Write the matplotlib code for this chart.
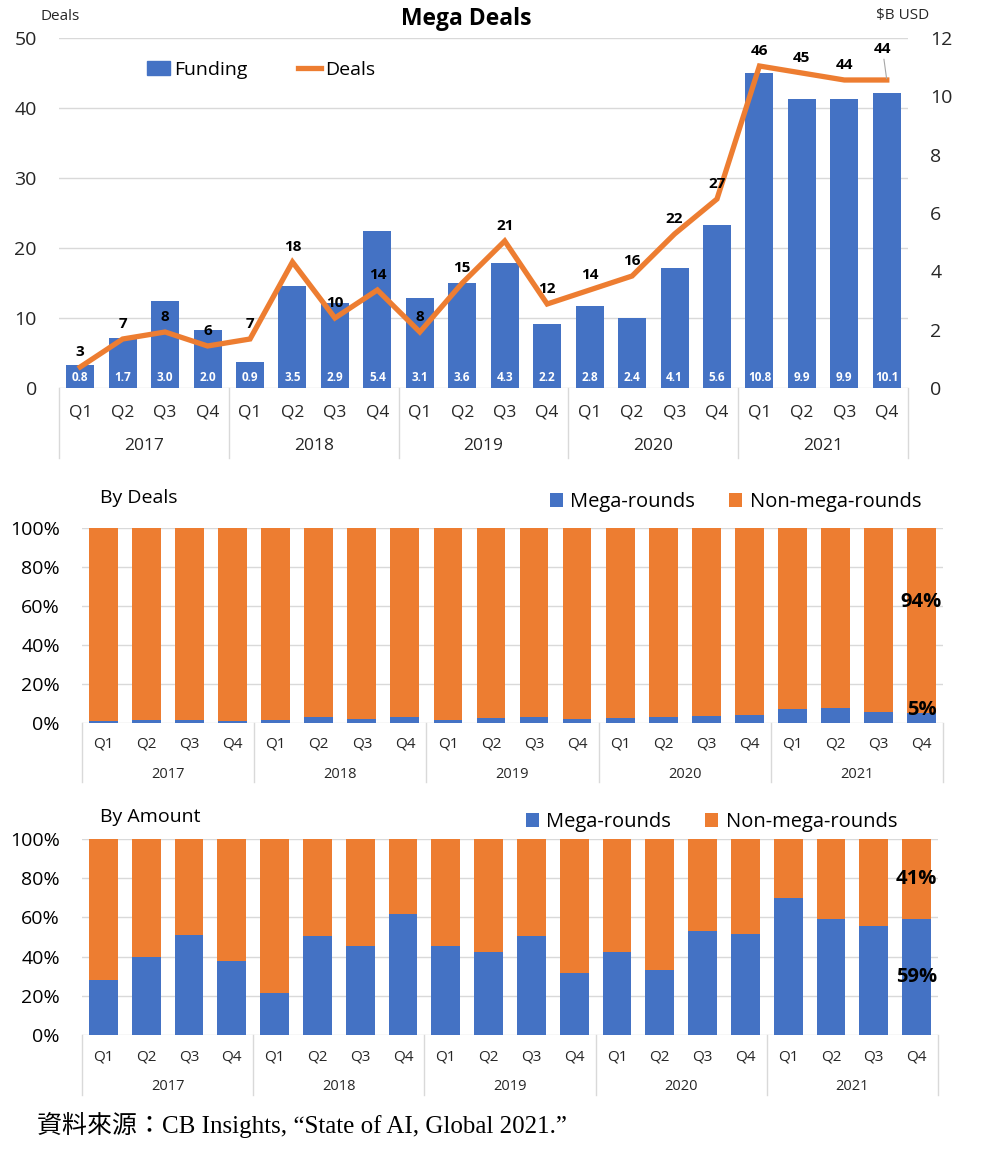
import numpy as np
import matplotlib.pyplot as plt
from matplotlib.patches import Patch
from matplotlib.lines import Line2D

# data
years = ["2017", "2018", "2019", "2020", "2021"]
quarters = ["Q1", "Q2", "Q3", "Q4"]

funding = [0.8, 1.7, 3.0, 2.0, 0.9, 3.5, 2.9, 5.4, 3.1, 3.6,
           4.3, 2.2, 2.8, 2.4, 4.1, 5.6, 10.8, 9.9, 9.9, 10.1]
deals = [3, 7, 8, 6, 7, 18, 10, 14, 8, 15,
         21, 12, 14, 16, 22, 27, 46, 45, 44, 44]

mega_deals = [0.7, 1.5, 1.5, 1.0, 1.5, 2.7, 1.9, 2.7, 1.5, 2.2,
              2.7, 1.9, 2.2, 2.7, 3.6, 4.1, 7.2, 7.7, 5.5, 5.0]
non_mega_deals = [99.3, 98.5, 98.5, 99.0, 98.5, 97.3, 98.1, 97.3, 98.5, 97.8,
                  97.3, 98.1, 97.8, 97.3, 96.4, 95.9, 92.8, 92.3, 94.5, 94.0]

mega_amount = [28.2, 39.6, 51.2, 37.8, 21.3, 50.3, 45.6, 61.7, 45.6, 42.5,
               50.3, 31.6, 42.5, 33.3, 52.9, 51.7, 69.9, 59.4, 55.4, 59.0]
non_mega_amount = [71.8, 60.4, 48.8, 62.2, 78.7, 49.7, 54.4, 38.3, 54.4, 57.5,
                   49.7, 68.4, 57.5, 66.7, 47.1, 48.3, 30.1, 40.6, 44.6, 41.0]

BLUE = "#4472C4"
ORANGE = "#ED7D31"
GRID = "#D9D9D9"
TXT = "#262626"

plt.rcParams["font.family"] = ["Open Sans", "DejaVu Sans"]

W, H = 1001, 1156
fig = plt.figure(figsize=(W / 100, H / 100), dpi=100)

n = len(years) * len(quarters)
x = np.arange(n)


def fig_rect(x0, y0, x1, y1):
    return [x0 / W, 1 - y1 / H, (x1 - x0) / W, (y1 - y0) / H]


def draw_categories(ax, q_y, yr_y, line_y, q_size, yr_size):
    trans = ax.get_xaxis_transform()
    for i in range(n):
        ax.text(i, q_y, quarters[i % 4], transform=trans, ha="center",
                va="center", fontsize=q_size, color=TXT)
    for k, yr in enumerate(years):
        ax.text(4 * k + 1.5, yr_y, yr, transform=trans, ha="center",
                va="center", fontsize=yr_size, color=TXT)
    for k in range(len(years) + 1):
        ax.plot([4 * k - 0.5] * 2, [0, line_y], transform=trans,
                color=GRID, lw=1, clip_on=False)
    ax.set_xticks([])
    ax.set_xlim(-0.5, n - 0.5)


def clean(ax):
    for s in ax.spines.values():
        s.set_visible(False)


# ---- top: mega deals ----
ax = fig.add_axes(fig_rect(59, 38, 908, 388))
ax.set_ylim(0, 50)
ax.set_yticks(range(0, 51, 10))
ax.grid(axis="y", color=GRID, lw=1)
ax.tick_params(axis="y", length=0, pad=16, labelsize=14, labelcolor=TXT)
clean(ax)
draw_categories(ax, -0.069, -0.166, -0.2, 12.5, 12.5)

ax2 = ax.twinx()
ax2.bar(x, funding, width=0.66, color=BLUE, zorder=2)
ax2.set_ylim(0, 12)
ax2.set_yticks(range(0, 13, 2))
ax2.tick_params(axis="y", length=0, pad=16, labelsize=14, labelcolor=TXT)
clean(ax2)
for i, v in enumerate(funding):
    ax2.annotate(f"{v:.1f}", (i, 0), xytext=(0, 3), textcoords="offset points",
                 ha="center", va="bottom", color="white", fontsize=8.5,
                 fontweight="bold")

ax3 = ax.twinx()
ax3.set_ylim(0, 50)
ax3.plot(x, deals, color=ORANGE, lw=3.8, solid_joinstyle="miter", zorder=3)
ax3.set_yticks([])
clean(ax3)
for i, v in enumerate(deals):
    if i == n - 1:
        ax3.annotate(str(v), (i, v), xytext=(-3, 17), textcoords="offset points",
                     ha="center", va="bottom", fontsize=11, fontweight="bold",
                     arrowprops=dict(arrowstyle="-", color="#A6A6A6", lw=0.8,
                                     shrinkA=0, shrinkB=1))
    else:
        ax3.annotate(str(v), (i, v), xytext=(0, 6), textcoords="offset points",
                     ha="center", va="bottom", fontsize=11, fontweight="bold")

handles = [Patch(color=BLUE), Line2D([], [], color=ORANGE, lw=3.8)]
ax3.legend(handles, ["Funding", "Deals"], ncol=2, frameon=False,
           loc="center left", bbox_to_anchor=(147 / W, 1 - 70 / H),
           bbox_transform=fig.transFigure, borderpad=0, borderaxespad=0,
           handlelength=1.2, handleheight=0.7, handletextpad=0.2,
           columnspacing=2.6, fontsize=14)

fig.text(466 / W, 1 - 19 / H, "Mega Deals", ha="center", va="center",
         fontsize=16.5, fontweight="bold", color="black")
fig.text(40 / W, 1 - 17 / H, "Deals", ha="left", va="center", fontsize=11,
         color=TXT)
fig.text(929 / W, 1 - 15 / H, "$B USD", ha="right", va="center", fontsize=11,
         color=TXT)


# ---- stacked percent panels ----
def pct_panel(rect, mega, non, title, title_y, legend_x, legend_y, label_pos):
    axp = fig.add_axes(rect)
    total = np.array(mega) + np.array(non)
    m = np.array(mega) / total * 100
    o = np.array(non) / total * 100
    axp.bar(x, m, width=0.67, color=BLUE, zorder=2, label="Mega-rounds")
    axp.bar(x, o, bottom=m, width=0.67, color=ORANGE, zorder=2,
            label="Non-mega-rounds")
    axp.set_ylim(0, 100)
    axp.set_yticks(range(0, 101, 20))
    axp.set_yticklabels([f"{t}%" for t in range(0, 101, 20)])
    axp.grid(axis="y", color=GRID, lw=1)
    axp.set_axisbelow(True)
    axp.tick_params(axis="y", length=0, pad=16, labelsize=14, labelcolor="black")
    clean(axp)
    draw_categories(axp, -0.11, -0.264, -0.305, 11, 10.5)

    last = n - 1
    y_non, y_mega = label_pos(m[last], o[last])
    axp.text(last, y_non, f"{round(non[last])}%", ha="center", va="center",
             fontsize=14.5, fontweight="bold", color="black", zorder=4)
    axp.text(last, y_mega, f"{round(mega[last])}%", ha="center", va="center",
             fontsize=14.5, fontweight="bold", color="black", zorder=4)

    fig.text(100 / W, 1 - title_y / H, title, ha="left", va="center",
             fontsize=14, color="black")
    axp.legend(ncol=2, frameon=False, loc="center right",
               bbox_to_anchor=(legend_x / W, 1 - legend_y / H),
               bbox_transform=fig.transFigure, borderpad=0, borderaxespad=0,
               handlelength=0.65, handleheight=0.65, handletextpad=0.35,
               columnspacing=1.7, fontsize=14.5)
    return axp


pct_panel(fig_rect(82, 527.7, 943, 722.7), mega_deals, non_mega_deals,
          "By Deals", 498, 921, 502,
          lambda mv, ov: (mv + ov * 0.6, mv + 1.5))
pct_panel(fig_rect(82, 839, 938, 1035), mega_amount, non_mega_amount,
          "By Amount", 817, 897, 822,
          lambda mv, ov: (mv + ov / 2, mv / 2))

fig.text(37 / W, 1 - 1125 / H, "資料來源：CB Insights, “State of AI, Global 2021.”",
         ha="left", va="center", fontsize=18, color="black",
         family=["Liberation Serif", "Noto Sans CJK TC"])

fig.savefig("out.png", dpi=100)
